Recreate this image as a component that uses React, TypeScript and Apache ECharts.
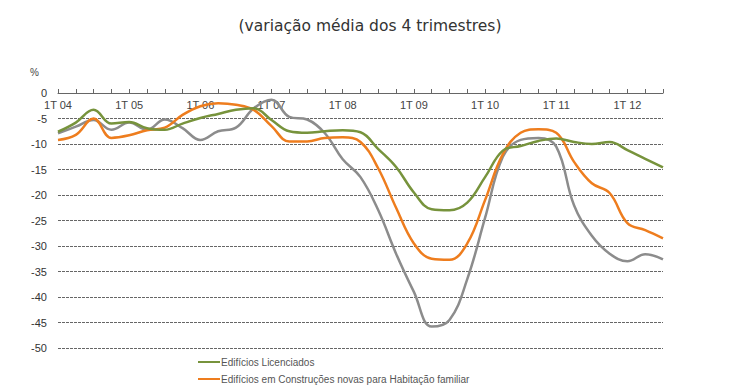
import React, { useEffect, useRef } from "react";
import * as echarts from "echarts";

const years = ["04", "05", "06", "07", "08", "09", "10", "11", "12"];
const categories: string[] = [];
years.forEach((y) => {
  for (let q = 1; q <= 4; q++) categories.push(`${q}T ${y}`);
});
const quarters = categories.slice(0, 35);

const seriesNames = [
  "Edifícios Licenciados",
  "Edifícios em Construções novas para Habitação familiar",
  "Edifícios Concluídos",
];

const licenciados = [
  -7.6, -5.8, -3.3, -6.0, -5.7, -6.9, -7.2, -6.0, -4.9, -4.1, -3.3, -3.0,
  -5.3, -7.5, -7.8, -7.5, -7.3, -7.7, -11.0, -14.5, -19.5, -22.8, -23.0, -21.5,
  -16.5, -11.3, -10.4, -9.4, -8.9, -9.6, -10.0, -9.6, -11.2, -12.9, -14.6,
];
const construcoes = [
  -9.2, -8.2, -5.0, -8.8, -8.3, -7.3, -6.8, -4.3, -2.6, -2.0, -2.3, -3.3,
  -6.5, -9.5, -9.5, -8.8, -8.7, -9.6, -14.8, -22.5, -29.5, -32.5, -32.7, -29.5,
  -21.0, -12.0, -7.8, -7.1, -7.8, -13.5, -17.7, -19.6, -25.5, -26.9, -28.5,
];
const concluidos = [
  -7.9, -6.6, -5.3, -7.2, -5.8, -7.2, -5.2, -6.9, -9.2, -7.5, -6.8, -3.0,
  -1.3, -4.7, -5.2, -7.9, -13.0, -16.5, -23.0, -31.5, -39.0, -45.8, -44.5, -36.5,
  -24.5, -12.5, -9.2, -8.8, -10.5, -22.0, -28.0, -31.5, -33.0, -31.6, -32.6,
];

const colors = ["#77933c", "#ee7d1e", "#8c8c8c"];

export default function App() {
  const ref = useRef<HTMLDivElement>(null);
  useEffect(() => {
    document.body.style.margin = "0";
    if (!ref.current) return;
    const chart = echarts.init(ref.current, undefined, { renderer: "svg" });
    const mk = (name: string, data: number[], color: string, z: number) => ({
      name,
      type: "line",
      data,
      smooth: 0.4,
      showSymbol: false,
      symbol: "none",
      z,
      lineStyle: { color, width: 2.5 },
      itemStyle: { color },
    });
    chart.setOption({
      animation: false,
      backgroundColor: "#ffffff",
      textStyle: { fontFamily: "Liberation Sans" },
      title: {
        text: "(variação média dos 4 trimestres)",
        left: "center",
        top: 13,
        textStyle: {
          fontFamily: "DejaVu Sans",
          fontSize: 15.5,
          fontWeight: "normal",
          color: "#333333",
        },
      },
      graphic: [
        {
          type: "text",
          left: 30,
          top: 67,
          style: { text: "%", fontSize: 10, fill: "#444", fontFamily: "Liberation Sans" },
        },
      ],
      legend: {
        orient: "vertical",
        left: 198,
        top: 357,
        height: 40,
        padding: 0,
        itemGap: 7,
        itemWidth: 22,
        itemHeight: 2,
        icon: "rect",
        data: [seriesNames[0], seriesNames[1]],
        textStyle: { fontSize: 10, color: "#555", padding: [0, 0, 0, -4] },
      },
      grid: { left: 58, right: 77, top: 93, bottom: 41 },
      xAxis: {
        type: "category",
        position: "top",
        boundaryGap: false,
        data: quarters,
        axisLine: { show: true, lineStyle: { color: "#666", width: 1 } },
        axisTick: { show: true, inside: false, interval: 0, length: 4, lineStyle: { color: "#666" } },
        axisLabel: {
          inside: true,
          interval: 3,
          margin: 6,
          fontSize: 11,
          color: "#444",
          fontFamily: "Liberation Sans",
        },
        splitLine: { show: false },
      },
      yAxis: {
        type: "value",
        min: -50,
        max: 0,
        interval: 5,
        axisLine: { show: false },
        axisTick: { show: false },
        axisLabel: { fontSize: 11, color: "#333", margin: 11, fontFamily: "Liberation Sans" },
        splitLine: {
          show: true,
          lineStyle: { color: "#666", width: 1, type: [3, 1] },
        },
      },
      series: [
        mk(seriesNames[2], concluidos, colors[2], 2),
        mk(seriesNames[1], construcoes, colors[1], 3),
        mk(seriesNames[0], licenciados, colors[0], 4),
      ],
    });
    return () => chart.dispose();
  }, []);
  return <div ref={ref} style={{ width: 740, height: 389 }} />;
}
